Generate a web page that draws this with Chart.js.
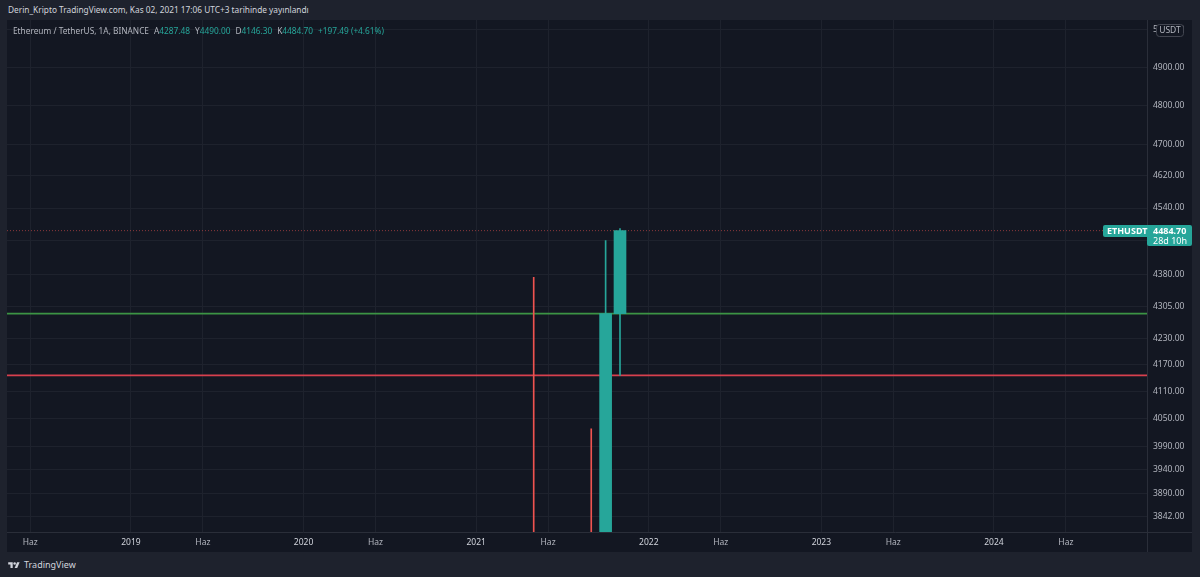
<!DOCTYPE html>
<html>
<head>
<meta charset="utf-8">
<title>Ethereum / TetherUS, 1A, BINANCE</title>
<script src="https://cdn.jsdelivr.net/npm/chart.js@4"></script>
<style>
  html, body { margin: 0; padding: 0; }
  body { width: 1200px; height: 577px; background: #1e222d; font-family: "Noto Sans", sans-serif; position: relative; overflow: hidden; }
  .published { position: absolute; left: 8px; top: 3px; font-size: 8.3px; line-height: 14px; color: #d1d4dc; white-space: pre; }
  .chart-box { position: absolute; left: 7px; top: 20px; width: 1185px; height: 532px; background: #131722; }
  .legend { position: absolute; left: 13px; top: 24px; font-size: 8.3px; line-height: 14px; color: #b2b5be; white-space: pre; }
  .legend .v { color: #26a69a; }
  .legend .gap { margin-left: 5px; }
  .brand { position: absolute; left: 7px; top: 558px; font-size: 9px; line-height: 14px; color: #d1d4dc; display: flex; align-items: center; gap: 3px; }
</style>
</head>
<body>
<div class="published">Derin_Kripto TradingView.com, Kas 02, 2021 17:06 UTC+3 tarihinde yayınlandı</div>
<div class="chart-box"><canvas id="chart" width="1185" height="532"></canvas></div>
<div class="legend">Ethereum / TetherUS, 1A, BINANCE<span class="gap">A</span><span class="v">4287.48</span><span class="gap">Y</span><span class="v">4490.00</span><span class="gap">D</span><span class="v">4146.30</span><span class="gap">K</span><span class="v">4484.70</span><span class="gap v">+197.49 (+4.61%)</span></div>
<div class="brand">
  <svg width="14" height="9" viewBox="0 0 36 28"><path d="M14 22H7V11H0V4h14v18z" fill="#d1d4dc"/><circle cx="20" cy="8" r="4" fill="#d1d4dc"/><path d="M28 22h-8l7.5-18h8z" fill="#d1d4dc"/></svg>
  <span>TradingView</span>
</div>
<script>
// monthly candles (only the ones that reach the visible price range)
const barMonths = ['2021-05', '2021-09', '2021-10', '2021-11'];
const opens  = [2772.34, 3433.73, 3000.86, 4287.48];
const highs  = [4372.72, 4027.88, 4460.47, 4490.00];
const lows   = [1728.74, 2651.00, 2970.00, 4146.30];
const closes = [2706.15, 3001.68, 4287.48, 4484.70];

// time axis
const xTickMonths = ['2018-06', '2019-01', '2019-06', '2020-01', '2020-06', '2021-01', '2021-06',
  '2022-01', '2022-06', '2023-01', '2023-06', '2024-01', '2024-06'];
const xTickLabels = ['Haz', '2019', 'Haz', '2020', 'Haz', '2021', 'Haz', '2022', 'Haz', '2023', 'Haz', '2024', 'Haz'];

// price axis (log)
const yTicks = [5000, 4900, 4800, 4700, 4620, 4540, 4460, 4380, 4305, 4230, 4170, 4110, 4050, 3990, 3940, 3890, 3842];

// drawn horizontal levels
const greenLevel = 4287.48;
const redLevel = 4146.30;
const lastPrice = 4484.70;

// visible range
const xMin = 3.38, xMax = 82.64;
const yMin = 3809, yMax = 5027;

const UP = '#26a69a';
const DOWN = '#ef5350';

// months counted from Jan 2018
function monthIndex(s) {
  const [y, m] = s.split('-').map(Number);
  return (y - 2018) * 12 + (m - 1);
}

const xs = barMonths.map(monthIndex);
const colors = opens.map((o, i) => closes[i] >= o ? UP : DOWN);

// axis borders + price tag + currency box
const overlay = {
  id: 'overlay',
  afterDraw(chart) {
    const { ctx, chartArea, scales } = chart;
    const w = chart.width, h = chart.height;
    ctx.save();
    ctx.strokeStyle = '#2a2e39';
    ctx.lineWidth = 1;
    ctx.beginPath();
    ctx.moveTo(chartArea.right + 0.5, 0);
    ctx.lineTo(chartArea.right + 0.5, h);
    ctx.moveTo(0, chartArea.bottom + 0.5);
    ctx.lineTo(w, chartArea.bottom + 0.5);
    ctx.stroke();

    // last price tag
    const y = Math.round(scales.y.getPixelForValue(lastPrice));
    ctx.fillStyle = UP;
    ctx.beginPath();
    ctx.roundRect(chartArea.right - 44, y - 6, 46, 12, [2, 0, 0, 2]);
    ctx.fill();
    ctx.beginPath();
    ctx.roundRect(chartArea.right, y - 6, 45, 21, [0, 2, 2, 2]);
    ctx.fill();
    ctx.fillStyle = '#ffffff';
    ctx.textBaseline = 'middle';
    ctx.font = 'bold 9px "Noto Sans"';
    ctx.fillText('ETHUSDT', chartArea.right - 40, y);
    ctx.fillText(lastPrice.toFixed(2), chartArea.right + 6, y);
    ctx.font = '9px "Noto Sans"';
    ctx.fillText('28d 10h', chartArea.right + 6, y + 10);

    // currency box
    ctx.fillStyle = '#131722';
    ctx.strokeStyle = '#434651';
    ctx.beginPath();
    ctx.roundRect(chartArea.right + 9.5, 4.5, 27, 12, 3);
    ctx.fill();
    ctx.stroke();
    ctx.fillStyle = '#b2b5be';
    ctx.textAlign = 'center';
    ctx.font = '8.5px "Noto Sans"';
    ctx.fillText('USDT', chartArea.right + 23, 11);
    ctx.restore();
  }
};

new Chart(document.getElementById('chart'), {
  type: 'bar',
  data: {
    datasets: [
      {
        type: 'line',
        data: [{ x: xMin, y: greenLevel }, { x: xMax, y: greenLevel }],
        borderColor: '#3c9444',
        borderWidth: 1.6,
        pointRadius: 0,
        order: 5
      },
      {
        type: 'line',
        data: [{ x: xMin, y: redLevel }, { x: xMax, y: redLevel }],
        borderColor: '#d8404e',
        borderWidth: 1.6,
        pointRadius: 0,
        order: 5
      },
      {
        type: 'line',
        data: [{ x: xMin, y: lastPrice }, { x: xMax, y: lastPrice }],
        borderColor: 'rgba(239, 83, 80, 0.55)',
        borderWidth: 1,
        borderDash: [1, 2],
        pointRadius: 0,
        order: 5
      },
      {
        label: 'wick',
        data: xs.map((x, i) => ({ x, y: [lows[i], highs[i]] })),
        backgroundColor: colors,
        barThickness: 1,
        grouped: false,
        order: 2
      },
      {
        label: 'body',
        data: xs.map((x, i) => ({ x, y: [opens[i], closes[i]] })),
        backgroundColor: colors,
        barThickness: 12,
        grouped: false,
        order: 1
      }
    ]
  },
  options: {
    responsive: false,
    animation: false,
    layout: { padding: 0 },
    plugins: {
      legend: { display: false },
      tooltip: { enabled: false }
    },
    scales: {
      x: {
        type: 'linear',
        min: xMin,
        max: xMax,
        offset: false,
        afterBuildTicks: scale => { scale.ticks = xTickMonths.map(m => ({ value: monthIndex(m) })); },
        afterFit: scale => {
          scale.height = 20;
          scale.paddingLeft = 0;
          scale.paddingRight = 0;
        },
        grid: { color: '#1e222d', drawTicks: false, offset: false },
        border: { display: false },
        ticks: {
          autoSkip: false,
          maxRotation: 0,
          padding: 5,
          font: { family: 'Noto Sans', size: 8.5 },
          color: ctx => /^\d+$/.test(xTickLabels[ctx.index]) ? '#d1d4dc' : '#b2b5be',
          callback: (v, i) => xTickLabels[i]
        }
      },
      y: {
        type: 'logarithmic',
        position: 'right',
        min: yMin,
        max: yMax,
        afterBuildTicks: scale => { scale.ticks = yTicks.map(v => ({ value: v })); },
        afterFit: scale => {
          scale.width = 45;
          scale.paddingTop = 0;
          scale.paddingBottom = 0;
        },
        grid: { color: '#1e222d', drawTicks: false },
        border: { display: false },
        ticks: {
          autoSkip: false,
          padding: 6,
          crossAlign: 'near',
          font: { family: 'Noto Sans', size: 8.5 },
          color: '#b2b5be',
          callback: v => Number(v).toFixed(2)
        }
      }
    }
  },
  plugins: [overlay]
});
</script>
</body>
</html>
